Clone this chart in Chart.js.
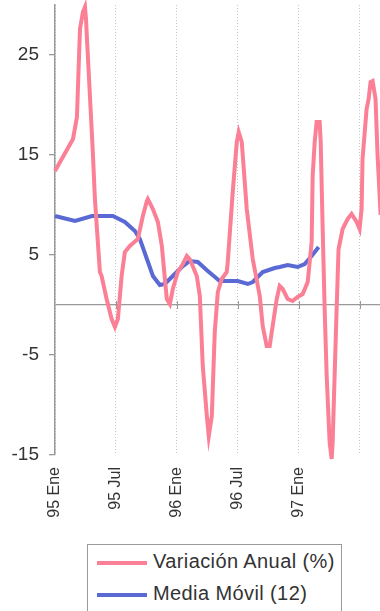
<!DOCTYPE html>
<html>
<head>
<meta charset="utf-8">
<script src="https://cdn.jsdelivr.net/npm/chart.js@4"></script>
<style>
  html, body { margin: 0; padding: 0; background: #fff; overflow: hidden; }
  #wrap { position: relative; width: 380px; height: 611px; }
  #legend {
    position: absolute; left: 87px; top: 544px; width: 253px; height: 90px;
    border: 1px solid #9a9a9a; font-family: 'Liberation Sans', Arial, sans-serif;
    font-size: 20px; color: #333; letter-spacing: 0.4px;
  }
  .row { position: absolute; left: 9px; height: 26px; line-height: 26px; white-space: nowrap; }
  .row span.sw { display: inline-block; width: 50px; height: 4px; vertical-align: middle; margin-right: 6px; }
</style>
</head>
<body>
<div id="wrap">
  <canvas id="chart" width="380" height="540"></canvas>
  <div id="legend">
    <div class="row" style="top:3px"><span class="sw" id="sw1"></span>Variación Anual (%)</div>
    <div class="row" style="top:35px"><span class="sw" id="sw2"></span>Media Móvil (12)</div>
  </div>
</div>
<script>
// months counted from 95 Ene (0 = Jan 1995)
var variacionMes = [0, 1.77, 2.16, 2.46, 2.75, 2.95, 3.05, 3.24, 3.71, 3.93, 4.42, 4.59, 5.08, 5.58, 5.90, 6.19,
  6.56, 6.88, 7.37, 8.16, 8.65, 9.05, 9.14, 9.64, 10.13, 10.52, 10.82, 11.01, 11.31, 11.60, 12.09, 12.59,
  12.98, 13.27, 13.96, 14.26, 14.55, 14.95, 15.14, 15.44, 15.73, 16.03, 16.42, 16.91, 17.01, 17.50, 17.90,
  18.09, 18.39, 18.88, 19.47, 20.16, 20.45, 20.84, 21.14, 21.43, 21.83, 22.12, 22.42, 22.91, 23.40, 23.89,
  24.39, 24.88, 25.27, 25.37, 25.57, 25.76, 26.06, 26.16, 26.35, 26.55, 26.75, 27.04, 27.24, 27.34, 27.53,
  27.73, 27.92, 28.32, 28.81, 29.20, 29.70, 29.99, 30.19, 30.28, 30.68, 30.88, 31.07, 31.27, 31.56, 31.76, 32.06];
var variacionAnual = [13.4, 16.6, 18.8, 27.6, 29.3, 29.8, 28.6, 24.8, 15.6, 10.6, 3.3, 2.9, 0.6, -1.4, -2.2, -1.4,
  2.9, 5.3, 5.9, 6.6, 8.9, 10.4, 10.6, 9.6, 8.3, 5.9, 2.6, 0.6, 0.1, 1.6, 3.3, 4.1,
  4.9, 4.6, 2.9, 0.9, -6.1, -11.1, -13.1, -11.1, -2.7, 1.3, 2.6, 3.3, 4.3, 11.3, 16.3,
  17.3, 16.3, 9.6, 4.6, 0.9, -2.1, -4.1, -4.1, -2.1, 0.6, 1.9, 1.6, 0.6, 0.4, 0.8,
  1.1, 2.3, 6.3, 12.9, 16.3, 18.3, 18.3, 16.3, 7.9, -0.4, -7.1, -13.7, -15.4, -13.7, -7.1,
  -0.4, 5.6, 7.6, 8.6, 9.1, 8.3, 7.6, 9.6, 14.6, 19.6, 20.6, 22.3, 22.4, 20.6, 15, 9];

var mediaMes = [0, 1.97, 3.64, 5.70, 6.88, 7.87, 8.36, 9.05, 9.64, 10.32, 10.82, 11.60, 12.49, 13.27,
  14.06, 15.04, 16.22, 17.99, 18.98, 19.47, 20.45, 21.63, 22.12, 22.91, 23.89, 24.58, 25.27, 25.96];
var mediaMovil = [8.9, 8.4, 8.9, 8.9, 8.3, 7.4, 6.6, 4.6, 2.9, 2.0, 2.1, 2.9, 3.8, 4.4,
  4.3, 3.4, 2.4, 2.4, 2.1, 2.3, 3.3, 3.7, 3.8, 4.0, 3.8, 4.1, 4.9, 5.8];

var xTicks = [0, 6, 12, 18, 24, 30];
var xLabels = ['95 Ene', '95 Jul', '96 Ene', '96 Jul', '97 Ene', ''];
var yTicks = [-15, -5, 0, 5, 15, 25];

var pink = '#fb7f95';
var blue = '#5a69d4';
document.getElementById('sw1').style.background = pink;
document.getElementById('sw2').style.background = blue;

function toPoints(xs, ys) {
  return xs.map(function(x, i) { return {x: x, y: ys[i]}; });
}

var ctx = document.getElementById('chart').getContext('2d');

// little tick marks crossing the zero line
var zeroTicks = {
  id: 'zeroTicks',
  beforeDatasetsDraw: function(chart) {
    var c = chart.ctx, xs = chart.scales.x, ys = chart.scales.y;
    var y0 = ys.getPixelForValue(0);
    c.save();
    c.strokeStyle = '#999';
    c.lineWidth = 1;
    xTicks.forEach(function(t) {
      if (t === 0) return;
      var px = Math.round(xs.getPixelForValue(t)) + 0.5;
      c.beginPath();
      c.moveTo(px, y0 - 4);
      c.lineTo(px, y0 + 4);
      c.stroke();
    });
    c.restore();
  }
};

function noPad(scale) {
  scale.paddingTop = 0;
  scale.paddingBottom = 0;
  scale.paddingLeft = 0;
  scale.paddingRight = 0;
}

var myChart = new Chart(ctx, {
  type: 'line',
  data: {
    datasets: [{
      label: 'Variación Anual (%)',
      data: toPoints(variacionMes, variacionAnual),
      borderColor: pink,
      borderWidth: 4,
      pointRadius: 0,
      tension: 0,
      clip: 8
    }, {
      label: 'Media Móvil (12)',
      data: toPoints(mediaMes, mediaMovil),
      borderColor: blue,
      borderWidth: 4,
      pointRadius: 0,
      tension: 0,
      clip: 8
    }]
  },
  options: {
    responsive: false,
    animation: false,
    layout: { padding: { top: 5, left: 0, right: 0, bottom: 0 } },
    plugins: { legend: { display: false }, tooltip: { enabled: false } },
    scales: {
      x: {
        type: 'linear',
        min: 0,
        max: 32,
        afterBuildTicks: function(scale) { scale.ticks = xTicks.map(function(v) { return {value: v}; }); },
        afterFit: function(scale) { scale.height = 85; noPad(scale); },
        border: { display: false, dash: [1, 2] },
        grid: { color: '#c4c4c4', lineWidth: 1, drawTicks: false },
        ticks: {
          maxRotation: 90,
          minRotation: 90,
          padding: 12,
          color: '#333',
          font: { family: "'Liberation Sans', Arial, sans-serif", size: 16 },
          callback: function(v) { return xLabels[xTicks.indexOf(v)]; }
        }
      },
      y: {
        min: -15,
        max: 30,
        afterBuildTicks: function(scale) { scale.ticks = yTicks.map(function(v) { return {value: v}; }); },
        afterFit: function(scale) { scale.width = 55; noPad(scale); },
        border: { display: true, color: '#999', width: 1.5 },
        grid: {
          tickLength: 6,
          lineWidth: 1.3,
          color: function(c) { return c.tick && c.tick.value === 0 ? '#999' : 'rgba(0,0,0,0)'; },
          tickColor: function(c) { return c.tick && c.tick.value === 0 ? 'rgba(0,0,0,0)' : '#999'; }
        },
        ticks: {
          padding: 10,
          color: '#333',
          font: { family: "'Liberation Sans', Arial, sans-serif", size: 19 },
          callback: function(v) { return v === 0 ? '' : v; }
        }
      }
    }
  },
  plugins: [zeroTicks]
});
</script>
</body>
</html>
